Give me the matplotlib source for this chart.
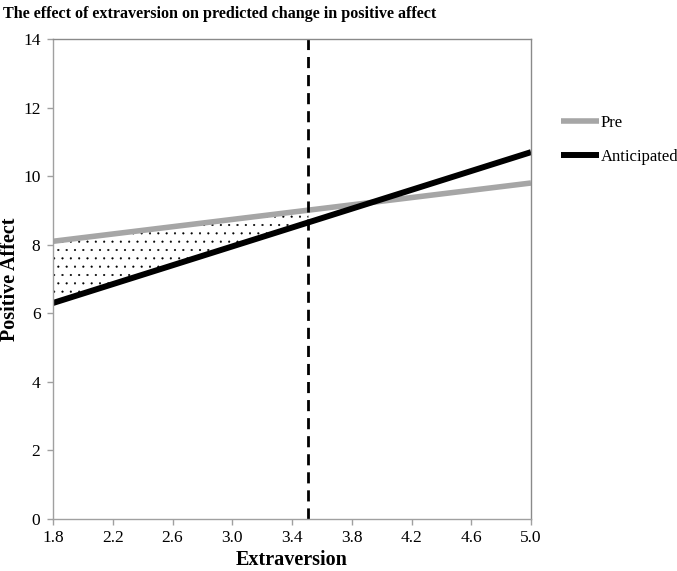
import numpy as np
import matplotlib
matplotlib.use("Agg")
import matplotlib.pyplot as plt

# data
extraversion = [1.8, 5.0]
pre = [8.1, 9.8]
anticipated = [6.3, 10.7]
cutoff = 3.51
x_ticks = [1.8, 2.2, 2.6, 3.0, 3.4, 3.8, 4.2, 4.6, 5.0]
y_ticks = [0, 2, 4, 6, 8, 10, 12, 14]

plt.rcParams["font.family"] = ["Liberation Serif", "DejaVu Serif"]
plt.rcParams["hatch.linewidth"] = 0.3

fig = plt.figure(figsize=(6.77, 5.71), dpi=100)
ax = fig.add_axes([53 / 677, 1 - 519 / 571, 478 / 677, 480 / 571])

# dotted area between the two lines left of the cutoff
xs = np.array([extraversion[0], cutoff])
ax.fill_between(xs, np.interp(xs, extraversion, anticipated),
                np.interp(xs, extraversion, pre),
                facecolor="white", edgecolor="black", hatch="..", linewidth=0)

ax.plot(extraversion, pre, color="#a6a6a6", lw=4, label="Pre", solid_capstyle="butt")
ax.plot(extraversion, anticipated, color="black", lw=4.3, label="Anticipated",
        solid_capstyle="butt")
ax.axvline(cutoff, color="black", lw=2, linestyle=(0, (4, 2.5)))

ax.set_xlim(1.8, 5.0)
ax.set_ylim(0, 14)
ax.set_xticks(x_ticks)
ax.set_xticklabels([f"{v:.1f}" for v in x_ticks])
ax.set_yticks(y_ticks)
ax.tick_params(labelsize=12.5, color="#a0a0a0", length=4, width=1)
ax.tick_params(axis="x", pad=4)
ax.tick_params(axis="y", pad=5)
for s in ax.spines.values():
    s.set_color("#a0a0a0")
    s.set_linewidth(1)
ax.spines["top"].set_color("#8a8a8a")
ax.spines["right"].set_color("#8a8a8a")

ax.set_xlabel("Extraversion", fontsize=14.5, fontweight="bold", labelpad=3)
ax.set_ylabel("Positive Affect", fontsize=14.5, fontweight="bold")
ax.yaxis.set_label_coords(-0.068, 0.5)
fig.text(3 / 677, 1 - 14 / 571, "The effect of extraversion on predicted change in positive affect",
         fontsize=11.6, fontweight="bold", va="center", ha="left")

leg = ax.legend(loc="upper left", bbox_to_anchor=(1.048, 0.856), frameon=False,
                fontsize=12, handlelength=2.3, handletextpad=0.1, labelspacing=1.1,
                borderaxespad=0)

fig.savefig("out.png", dpi=100)
